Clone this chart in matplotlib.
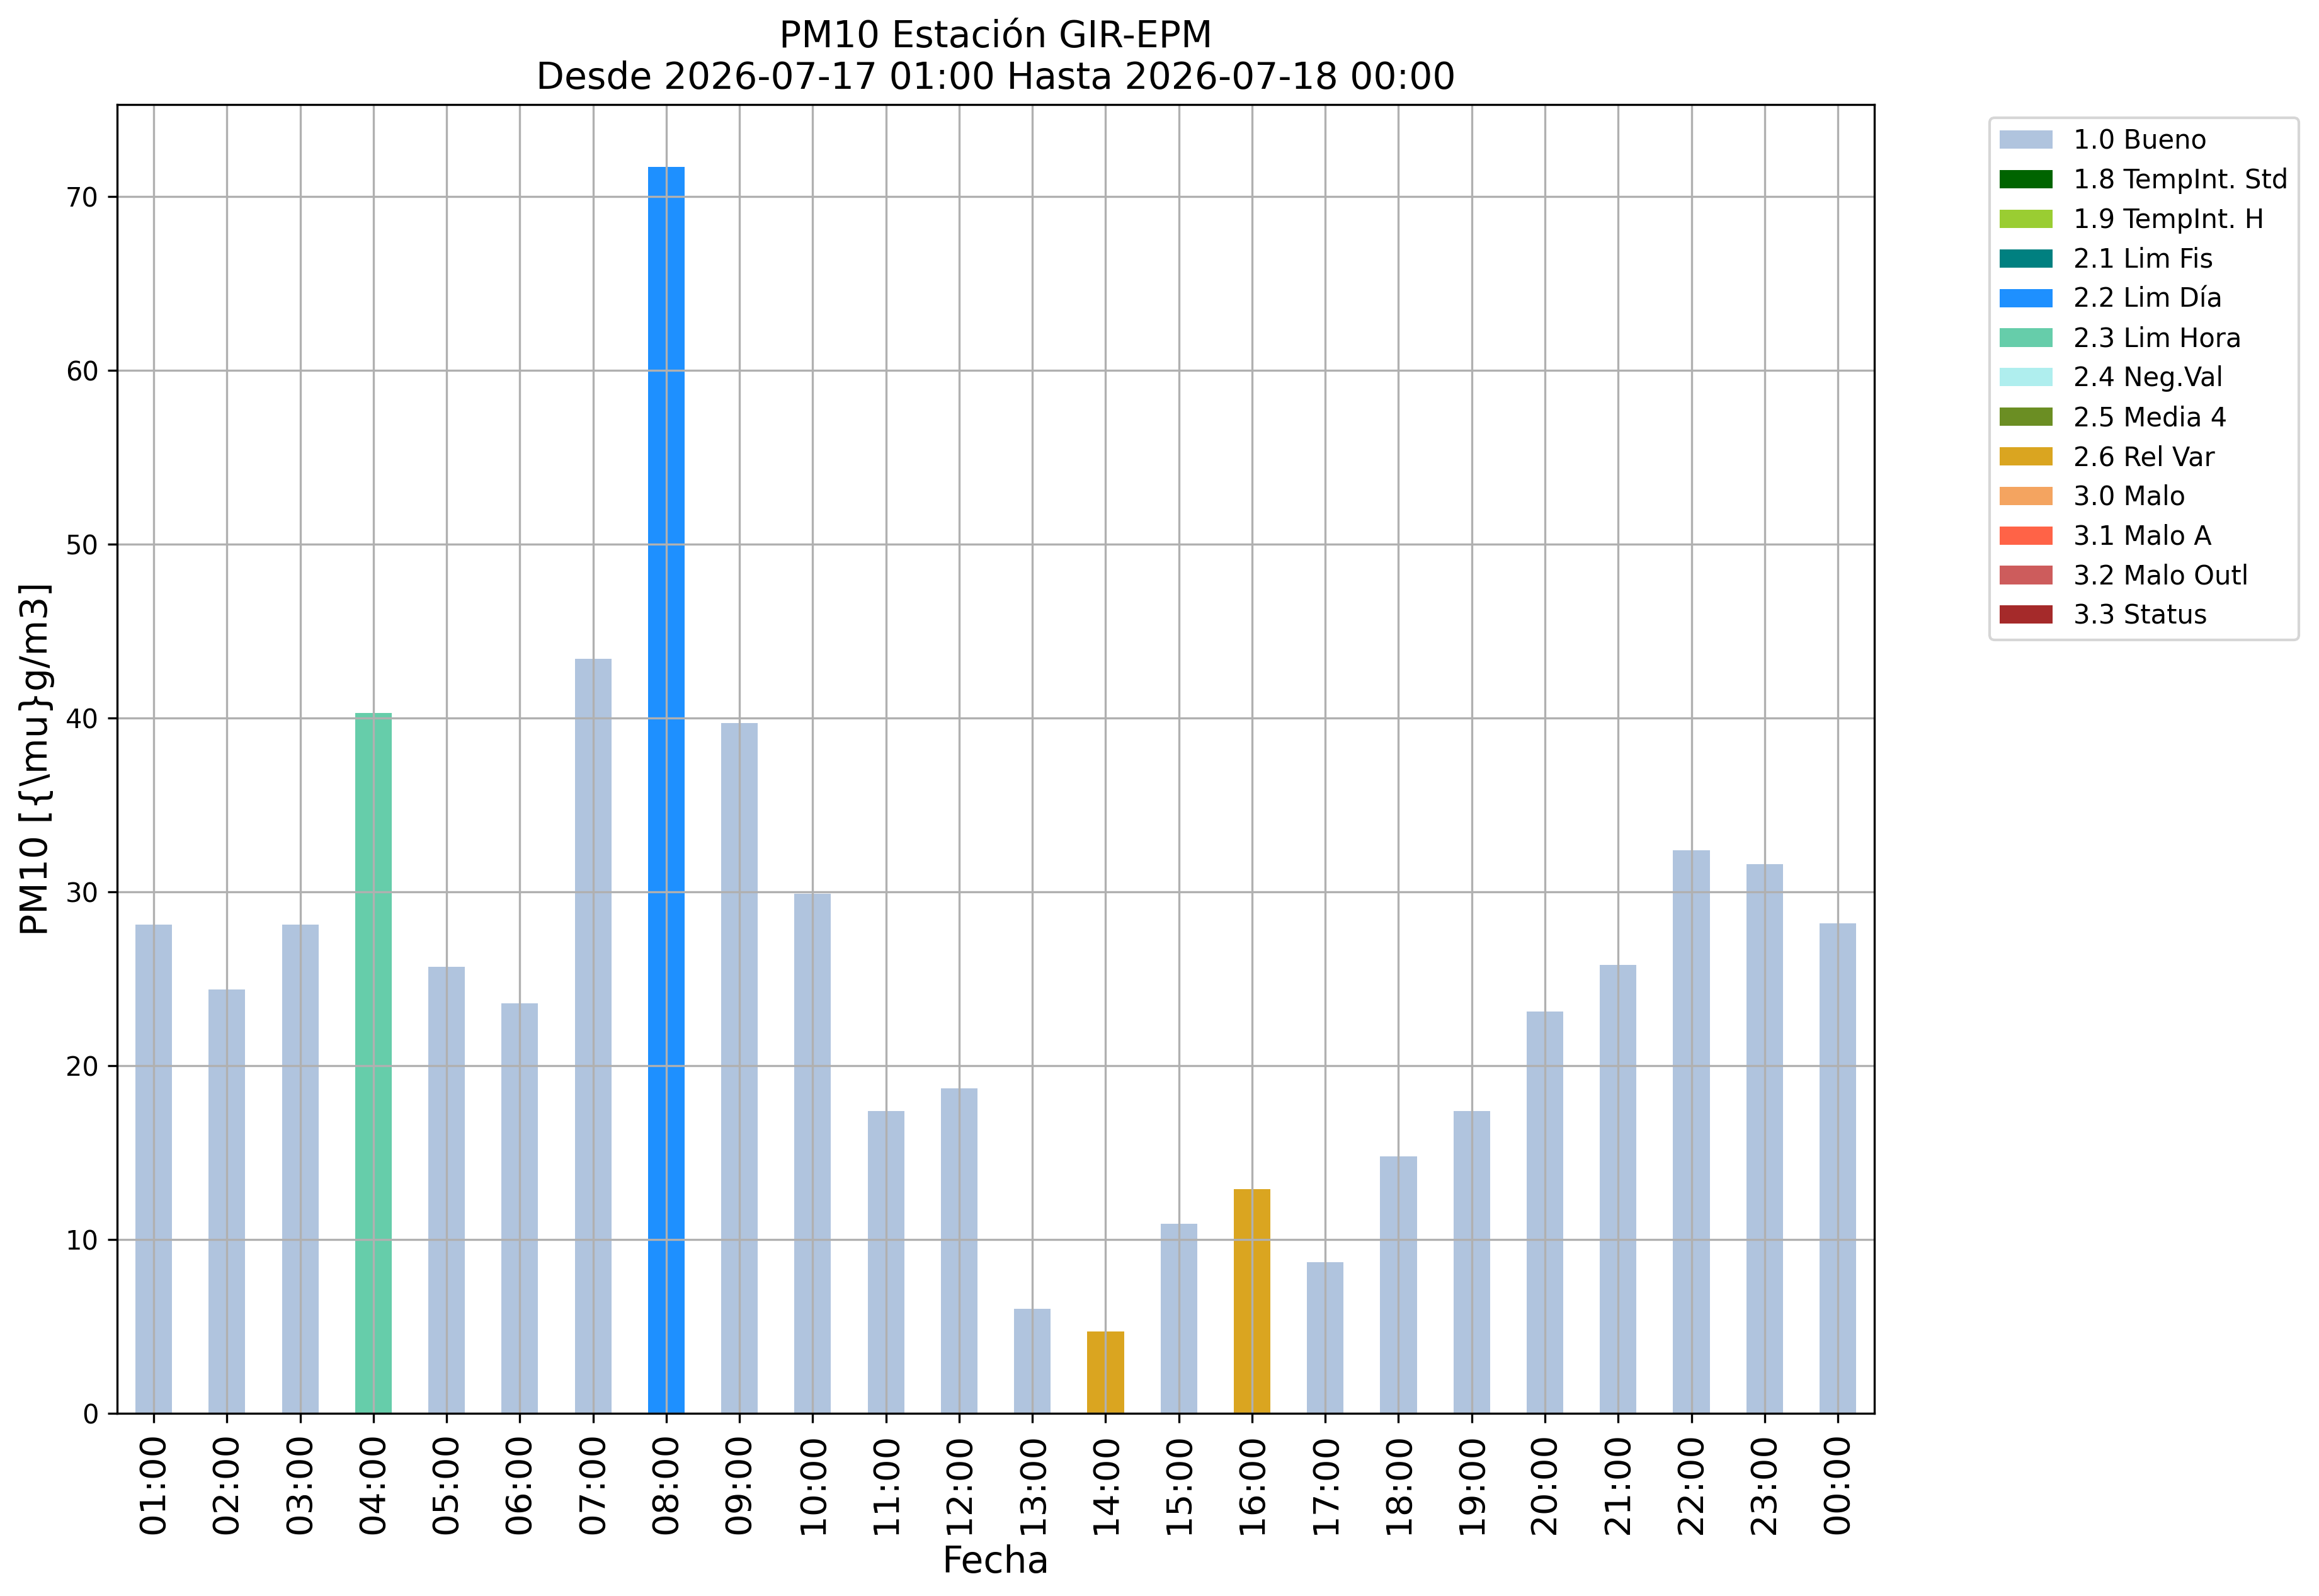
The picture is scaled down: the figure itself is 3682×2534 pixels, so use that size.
import matplotlib
matplotlib.use("Agg")
import matplotlib.pyplot as plt
from matplotlib.patches import Patch

hours = ["01:00", "02:00", "03:00", "04:00", "05:00", "06:00", "07:00", "08:00",
         "09:00", "10:00", "11:00", "12:00", "13:00", "14:00", "15:00", "16:00",
         "17:00", "18:00", "19:00", "20:00", "21:00", "22:00", "23:00", "00:00"]
pm10 = [28.1, 24.4, 28.1, 40.3, 25.7, 23.6, 43.4, 71.7,
        39.7, 29.9, 17.4, 18.7, 6.0, 4.7, 10.9, 12.9,
        8.7, 14.8, 17.4, 23.1, 25.8, 32.4, 31.6, 28.2]
flags = ["1.0 Bueno", "1.0 Bueno", "1.0 Bueno", "2.3 Lim Hora", "1.0 Bueno", "1.0 Bueno",
         "1.0 Bueno", "2.2 Lim Día", "1.0 Bueno", "1.0 Bueno", "1.0 Bueno", "1.0 Bueno",
         "1.0 Bueno", "2.6 Rel Var", "1.0 Bueno", "2.6 Rel Var", "1.0 Bueno", "1.0 Bueno",
         "1.0 Bueno", "1.0 Bueno", "1.0 Bueno", "1.0 Bueno", "1.0 Bueno", "1.0 Bueno"]
categories = ["1.0 Bueno", "1.8 TempInt. Std", "1.9 TempInt. H", "2.1 Lim Fis",
              "2.2 Lim Día", "2.3 Lim Hora", "2.4 Neg.Val", "2.5 Media 4",
              "2.6 Rel Var", "3.0 Malo", "3.1 Malo A", "3.2 Malo Outl", "3.3 Status"]
cat_colors = ["lightsteelblue", "darkgreen", "yellowgreen", "teal",
              "dodgerblue", "mediumaquamarine", "paleturquoise", "olivedrab",
              "goldenrod", "sandybrown", "tomato", "indianred", "brown"]

DPI = 300
fig = plt.figure(figsize=(3682 / DPI, 2534 / DPI), dpi=DPI)
ax = fig.add_axes([0.0505, 0.1144, 0.7578, 0.8201])

x = list(range(len(hours)))
for cat, col in zip(categories, cat_colors):
    xs = [i for i in x if flags[i] == cat]
    ys = [pm10[i] for i in x if flags[i] == cat]
    if xs:
        ax.bar(xs, ys, width=0.5, color=col)

ax.set_xlim(-0.5, len(hours) - 0.5)
ax.set_ylim(0, max(pm10) * 1.05)
ax.set_xticks(x)
ax.set_xticklabels(hours, rotation=90, fontsize=13.5)
ax.tick_params(axis="y", labelsize=10)
ax.grid(True)
ax.set_xlabel("Fecha", fontsize=14)
ax.set_ylabel("PM10 [{\\mu}g/m3]", fontsize=14)
ax.set_title("PM10 Estación GIR-EPM\nDesde 2026-07-17 01:00 Hasta 2026-07-18 00:00", fontsize=14)

handles = [Patch(facecolor=c, label=l) for l, c in zip(categories, cat_colors)]
ax.legend(handles=handles, loc="upper left", bbox_to_anchor=(1.058, 1), fontsize=10)

fig.savefig("out.png", dpi=DPI)
